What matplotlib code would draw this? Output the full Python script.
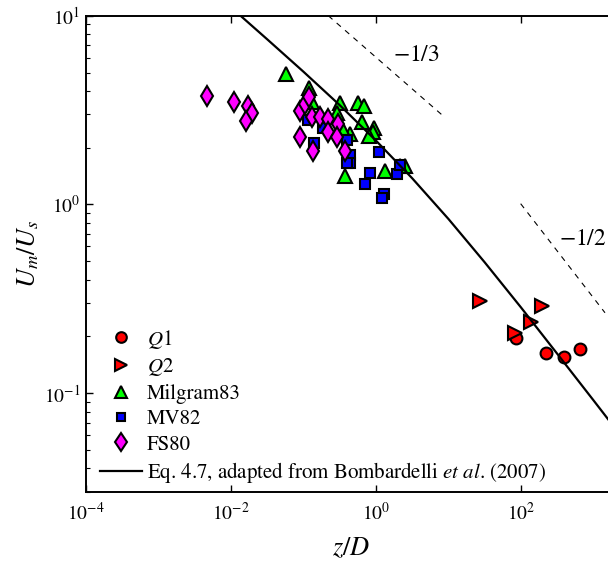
import math

import matplotlib
matplotlib.use("Agg")
import matplotlib.pyplot as plt
from matplotlib.ticker import FixedLocator, LogLocator, NullLocator

plt.rcParams["font.family"] = ["STIXGeneral", "DejaVu Serif"]
plt.rcParams["mathtext.fontset"] = "stix"

# data
q1_x = [85.3, 221, 395, 652]
q1_y = [0.196, 0.164, 0.155, 0.172]

q2_x = [27.2, 197, 137, 82.6]
q2_y = [0.307, 0.291, 0.240, 0.209]

milgram_x = [0.058, 0.120, 0.133, 0.318, 0.574, 0.683, 0.290, 0.636, 0.953,
             0.924, 0.789, 0.442, 0.345, 0.379, 1.33, 2.51, 2.14]
milgram_y = [4.94, 4.13, 3.51, 3.44, 3.43, 3.32, 3.04, 2.74, 2.54,
             2.41, 2.30, 2.37, 2.54, 1.42, 1.50, 1.59, 1.60]

mv82_x = [0.116, 0.187, 0.140, 0.394, 0.437, 0.437, 0.394, 1.11, 0.826,
          0.705, 1.31, 1.20, 1.98, 2.14]
mv82_y = [2.81, 2.54, 2.11, 2.19, 1.84, 1.66, 1.66, 1.89, 1.46,
          1.29, 1.14, 1.085, 1.45, 1.62]

fs80_x = [0.00462, 0.0111, 0.0171, 0.0197, 0.0161,
          0.0895, 0.105, 0.120, 0.130, 0.169, 0.220, 0.304, 0.220, 0.287,
          0.0895, 0.136, 0.373]
fs80_y = [3.76, 3.48, 3.33, 3.05, 2.78,
          3.14, 3.41, 3.70, 2.90, 2.92, 2.84, 2.67, 2.42, 2.29,
          2.27, 1.92, 1.92]

eq_x = [0.01, 0.0316, 0.1, 0.316, 1.0, 3.16, 10, 31.6, 100, 316, 1000, 3162]
eq_y = [11.08, 7.50, 5.05, 3.36, 2.18, 1.377, 0.838, 0.494, 0.285, 0.162,
        0.0918, 0.0518]

slope13_x = [0.22, 8.67]
slope13_y = [10.0, 2.92]
slope12_x = [99, 1442]
slope12_y = [1.01, 0.267]


def pow10(v, pos):
    return r"$10^{%d}$" % round(math.log10(v))


fig = plt.figure(figsize=(6.08, 5.61), dpi=100)
ax = fig.add_axes([0.1414, 0.123, 0.8706, 0.849])

mk = dict(linestyle="none", markeredgecolor="black", markeredgewidth=1.5)
ax.plot(q1_x, q1_y, marker="o", markersize=8.5, color="#ff0000", label=r"$Q1$", **mk)
ax.plot(q2_x, q2_y, marker=">", markersize=9.5, color="#ff0000", label=r"$Q2$", **mk)
ax.plot(milgram_x, milgram_y, marker="^", markersize=9.5, color="#00ff00",
        label="Milgram83", **mk)
ax.plot(mv82_x, mv82_y, marker="s", markersize=7, color="#0000ff", label="MV82", **mk)
ax.plot(fs80_x, fs80_y, marker="d", markersize=10.5, color="#ff00ff", label="FS80", **mk)
ax.plot(eq_x, eq_y, color="black", linewidth=1.6,
        label=r"Eq. 4.7, adapted from Bombardelli $\mathit{et\ al}$. (2007)")

ax.plot(slope13_x, slope13_y, color="black", linewidth=0.8, dashes=(5, 5))
ax.plot(slope12_x, slope12_y, color="black", linewidth=0.8, dashes=(5, 5))
ax.text(1.71, 6.2, r"$-1/3$", fontsize=17, ha="left", va="center")
ax.text(334, 0.658, r"$-1/2$", fontsize=17, ha="left", va="center")

ax.set_xscale("log")
ax.set_yscale("log")
ax.set_xlim(1e-4, 2e3)
ax.set_ylim(0.03, 10)

ax.xaxis.set_major_locator(FixedLocator([1e-4, 1e-2, 1e0, 1e2]))
ax.xaxis.set_minor_locator(NullLocator())
ax.yaxis.set_major_locator(FixedLocator([1e-1, 1e0, 1e1]))
ax.yaxis.set_minor_locator(LogLocator(base=10, subs=range(2, 10)))
ax.xaxis.set_major_formatter(plt.FuncFormatter(pow10))
ax.yaxis.set_major_formatter(plt.FuncFormatter(pow10))

ax.tick_params(which="both", direction="in", top=True, right=True, labelsize=14)
ax.tick_params(which="major", length=5, width=1)
ax.tick_params(which="minor", length=3, width=0.8)
ax.tick_params(axis="x", pad=7)
ax.tick_params(axis="y", pad=4)
for s in ax.spines.values():
    s.set_linewidth(1.4)

ax.set_xlabel(r"$z/D$", fontsize=19, labelpad=9)
ax.set_ylabel(r"$U_m/U_s$", fontsize=19, labelpad=2)

ax.legend(loc="upper left", bbox_to_anchor=(0.0265, 0.345), frameon=False,
          fontsize=15, handlelength=2.0, handletextpad=0.25, labelspacing=0.27,
          borderaxespad=0, borderpad=0, numpoints=1, markerscale=0.9)

fig.savefig("out.png", dpi=100)
